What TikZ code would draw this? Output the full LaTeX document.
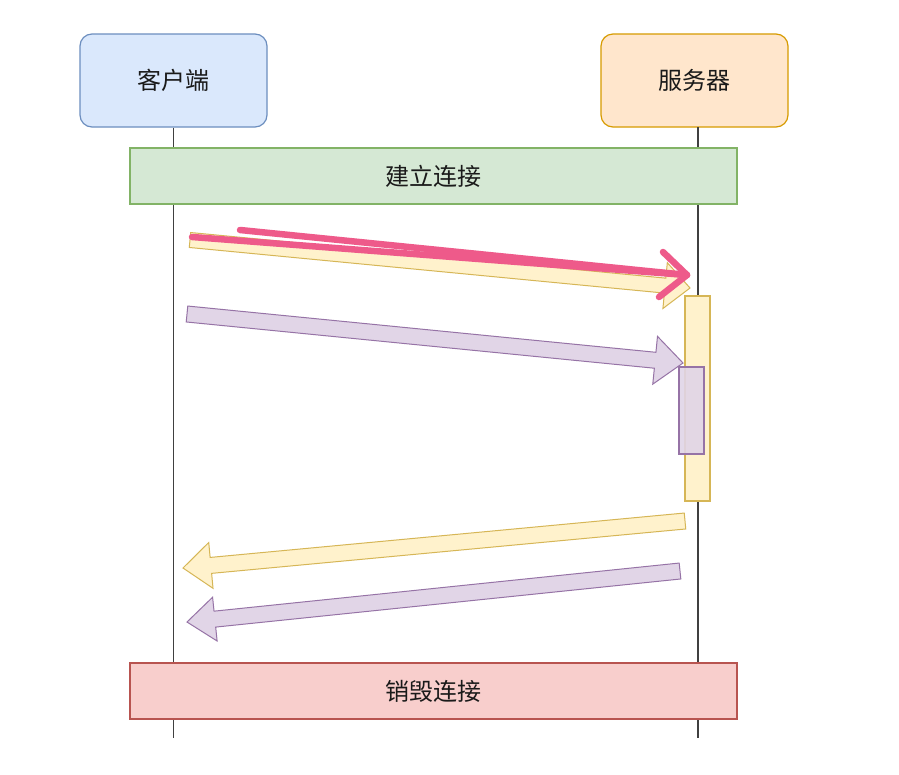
\documentclass[tikz,border=0pt]{standalone}
\usepackage{fontspec}
\newfontfamily\cjk{Noto Sans CJK SC}
\usetikzlibrary{calc}
\definecolor{cliFill}{HTML}{DAE8FC}\definecolor{cliLine}{HTML}{6C8EBF}
\definecolor{srvFill}{HTML}{FFE6CC}\definecolor{srvLine}{HTML}{D79B00}
\definecolor{grnFill}{HTML}{D5E8D4}\definecolor{grnLine}{HTML}{82B366}
\definecolor{redFill}{HTML}{F8CECC}\definecolor{redLine}{HTML}{B85450}
\definecolor{yelFill}{HTML}{FFF2CC}\definecolor{yelLine}{HTML}{D6B656}
\definecolor{purFill}{HTML}{E1D5E7}\definecolor{purLine}{HTML}{9673A6}
\definecolor{pinkMark}{HTML}{EE5A8A}
\definecolor{txt}{HTML}{1A1A1A}
\tikzset{
  actor/.style={draw, line width=1.2pt, rounded corners=12pt, minimum width=187pt, minimum height=93pt, font=\cjk\fontsize{24}{24}\selectfont, text=txt},
  phase/.style={draw, line width=1.2pt, minimum width=607pt, minimum height=56pt, font=\cjk\fontsize{24}{24}\selectfont, text=txt},
  lifeline/.style={draw=black!75, line width=1.2pt},
  actbar/.style={draw, line width=1.1pt},
}
% block arrow: #1 style, #2 tail, #3 tip, #4 shaft half width, #5 head half width, #6 head length
\newcommand{\blockarrow}[6]{%
  \path[#1]
    ($(#2)!#4!90:(#3)$) --
    ($($(#3)!#6!(#2)$)!#4!90:(#3)$) --
    ($($(#3)!#6!(#2)$)!#5!90:(#3)$) --
    (#3) --
    ($($(#3)!#6!(#2)$)!#5!-90:(#3)$) --
    ($($(#3)!#6!(#2)$)!#4!-90:(#3)$) --
    ($(#2)!#4!-90:(#3)$) -- cycle;}
\begin{document}
\begin{tikzpicture}[x=1pt,y=-1pt]
\useasboundingbox (0,0) rectangle (899,774);
\fill[white] (0,0) rectangle (899,774);

% actors
\node[actor, fill=cliFill, draw=cliLine] (cli) at (173.5,80.5) {客户端};
\node[actor, fill=srvFill, draw=srvLine] (srv) at (694.5,80.5) {服务器};

% lifelines
\coordinate (cliEnd) at (173,738);
\coordinate (srvEnd) at (698,738);
\draw[lifeline] (cli.south) -- (cli.south |- cliEnd);
\draw[lifeline] (698,127) -- (srvEnd);

% phases
\node[phase, fill=grnFill, draw=grnLine] (open) at (433.5,176) {建立连接};
\node[phase, fill=redFill, draw=redLine] (close) at (433.5,691) {销毁连接};

% activation bars
\node[actbar, fill=yelFill, draw=yelLine, minimum width=25pt, minimum height=205pt, inner sep=0pt] (actY) at (697.5,398.5) {};
\node[actbar, fill=purFill, draw=purLine, minimum width=25pt, minimum height=87pt, inner sep=0pt, fill opacity=0.9] (actP) at (691.5,410.5) {};

% message endpoints
\coordinate (m1s) at (190,240);  \coordinate (m1e) at (690,288);
\coordinate (m2s) at (187,314);  \coordinate (m2e) at (683,363);
\coordinate (m3s) at (685,521);  \coordinate (m3e) at (183,568);
\coordinate (m4s) at (680,571);  \coordinate (m4e) at (187,622);

\blockarrow{fill=yelFill, draw=yelLine, line width=1pt, line join=miter}{m1s}{m1e}{7.5pt}{23pt}{25pt}
\blockarrow{fill=purFill, draw=purLine, line width=1pt, line join=miter}{m2s}{m2e}{8pt}{24pt}{28pt}
\blockarrow{fill=yelFill, draw=yelLine, line width=1pt, line join=miter}{m3s}{m3e}{8pt}{23pt}{28pt}
\blockarrow{fill=purFill, draw=purLine, line width=1pt, line join=miter}{m4s}{m4e}{8pt}{22pt}{28pt}

% hand-drawn pink mark
\coordinate (p1) at (192,237); \coordinate (p0) at (240,230);
\coordinate (pt) at (687,275);
\coordinate (pa) at (663,252); \coordinate (pb) at (659,297);
\draw[pinkMark, line width=6.5pt, line cap=round, line join=round] (p1) -- (pt);
\draw[pinkMark, line width=6.5pt, line cap=round, line join=round] (p0) -- (pt);
\draw[pinkMark, line width=6.5pt, line cap=round, line join=round] (pa) -- (pt) -- (pb);
\end{tikzpicture}
\end{document}
